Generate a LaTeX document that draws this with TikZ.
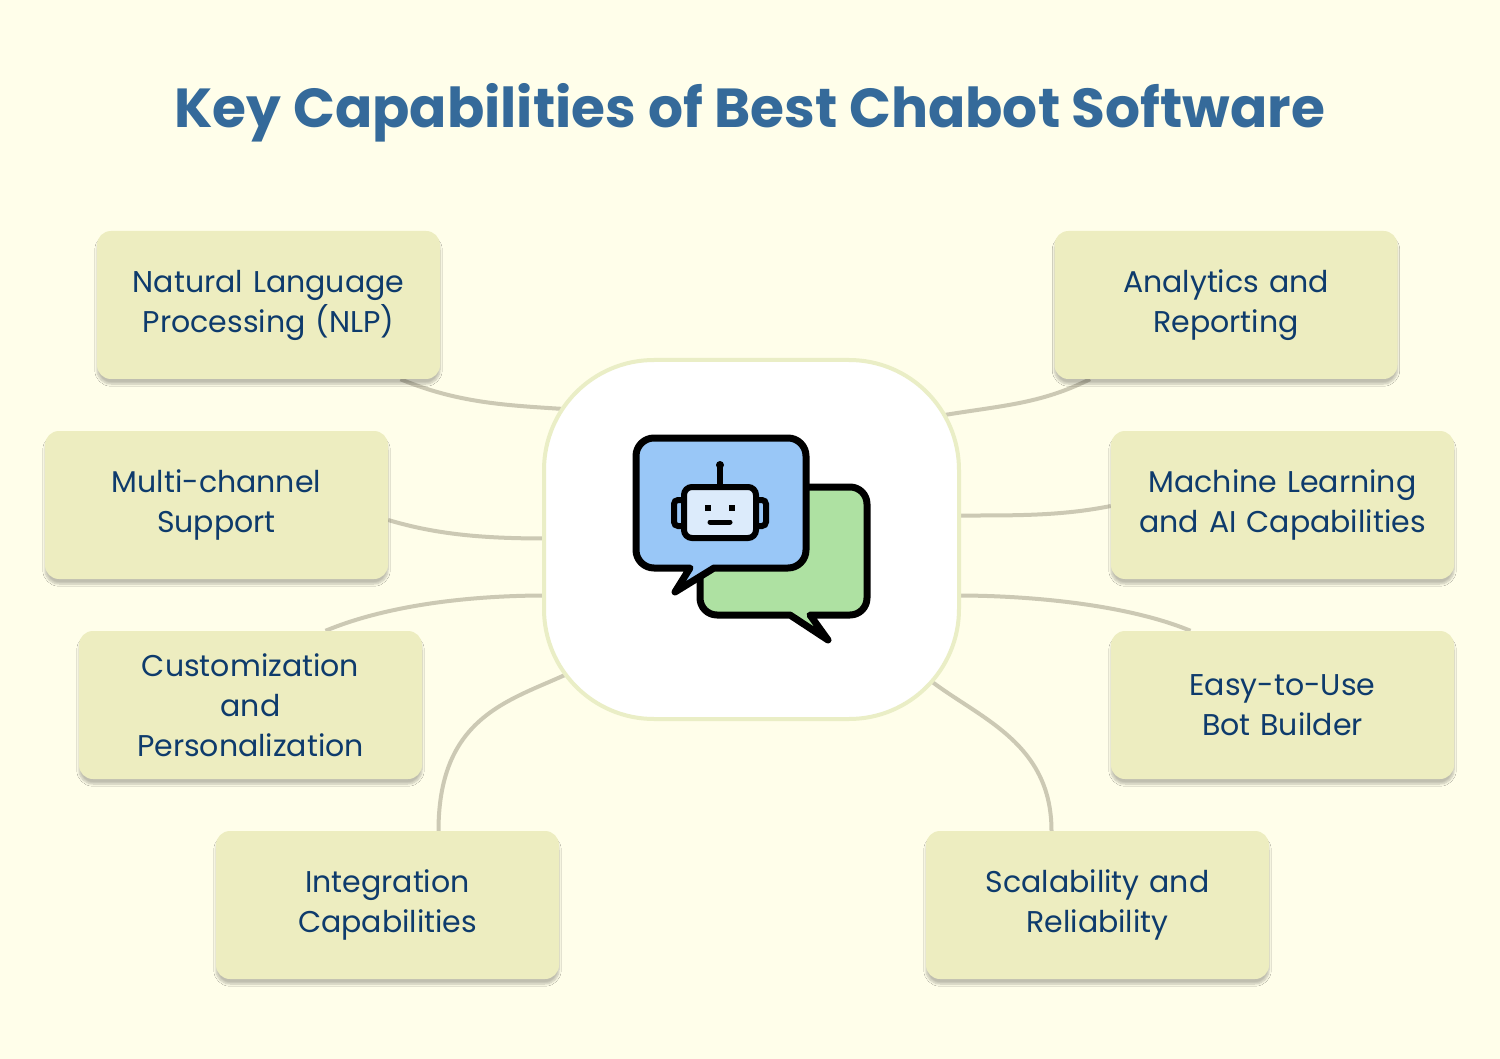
\documentclass[tikz,border=0pt]{standalone}
\usepackage{fontspec}
\setmainfont{Poppins}
\usetikzlibrary{positioning,backgrounds,shadows.blur}
\definecolor{paper}{HTML}{FFFEEA}
\definecolor{boxfill}{HTML}{EDEDC0}
\definecolor{boxtext}{HTML}{0E3B6C}
\definecolor{titleblue}{HTML}{356A9A}
\definecolor{wire}{HTML}{CCC9B4}
\definecolor{hubline}{HTML}{EAEEC6}
\definecolor{bubbleblue}{HTML}{99C7F7}
\definecolor{bubblegreen}{HTML}{AEE1A2}
\definecolor{facefill}{HTML}{DCEBFB}
\tikzstyle{capbox}=[fill=boxfill, rounded corners=14pt, minimum width=343pt, minimum height=148pt, text width=330pt, align=center, text=boxtext, font=\fontsize{30}{40}\selectfont, blur shadow={shadow xshift=0pt, shadow yshift=-5pt, shadow blur steps=6, shadow opacity=25}]
\tikzstyle{wireline}=[draw=wire, line width=4pt]
\begin{document}
\begin{tikzpicture}[x=1pt, y=-1pt]
\useasboundingbox (0,0) rectangle (1500,1059);
\node (title) at (750,113) [text=titleblue, font=\fontsize{55}{60}\selectfont\bfseries] {Key Capabilities of Best Chabot Software};

\node (hub) at (751.5,539.5) [fill=white, draw=hubline, line width=4pt, rounded corners=110pt, minimum width=415pt, minimum height=359pt] {};

\node (nlp) at (268.5,305) [capbox] {Natural Language\\Processing (NLP)};
\node (ana) at (1226,305) [capbox] {Analytics and\\Reporting};
\node (multi) at (216.5,505) [capbox] {Multi-channel\\Support};
\node (ml) at (1282.5,505) [capbox] {Machine Learning\\and AI Capabilities};
\node (cust) at (250.5,705) [capbox] {Customization\\and\\Personalization};
\node (easy) at (1282.5,705) [capbox] {Easy-to-Use\\Bot Builder};
\node (integ) at (387.5,905) [capbox] {Integration\\Capabilities};
\node (scal) at (1097.5,905) [capbox] {Scalability and\\Reliability};

\begin{scope}[on background layer]
\fill[paper] (0,0) rectangle (1500,1059);
\draw [wireline] ([xshift=132pt]nlp.south) .. controls +(60,25) and +(-60,-4) .. ([shift={(-180,-130)}]hub.center);
\draw [wireline] ([xshift=-136pt]ana.south) .. controls +(-50,25) and +(60,-10) .. ([shift={(190,-124)}]hub.center);
\draw [wireline] ([yshift=-15pt]multi.east) .. controls +(50,15) and +(-60,0) .. ([shift={(-205,-1)}]hub.center);
\draw [wireline] ([yshift=-1pt]ml.west) .. controls +(-50,10) and +(60,0) .. ([shift={(205,-24)}]hub.center);
\draw [wireline] ([xshift=75pt]cust.north) .. controls +(60,-25) and +(-80,0) .. ([shift={(-205,56)}]hub.center);
\draw [wireline] ([xshift=-92pt]easy.north) .. controls +(-60,-25) and +(80,0) .. ([shift={(205,56)}]hub.center);
\draw [wireline] ([xshift=51pt]integ.north) .. controls +(0,-120) and +(-60,30) .. ([shift={(-175,130)}]hub.center);
\draw [wireline] ([xshift=-46pt]scal.north) .. controls +(0,-90) and +(50,40) .. ([shift={(175,138)}]hub.center);
\end{scope}

% chat icon
\draw [fill=bubblegreen, line width=7pt, line join=round] (712,487) -- (850,487) arc (-90:0:17) -- (867,598) arc (0:90:17) -- (810,615) -- (828,640) -- (790,615) -- (717,615) arc (90:180:17) -- (700,504) arc (180:270:12) -- cycle;
\draw [fill=bubbleblue, line width=7pt, line join=round] (654,438) -- (788,438) arc (-90:0:18) -- (806,550) arc (0:90:18) -- (714,568) -- (675,592) -- (690,568) -- (654,568) arc (90:180:18) -- (636,456) arc (180:270:18) -- cycle;
\draw [line width=6pt] (720,466) -- (720,487);
\fill (720,465) circle (4pt);
\draw [fill=facefill, line width=6pt, rounded corners=8pt] (684,487) rectangle (756,538);
\draw [line width=6pt, rounded corners=4pt] (684,500) -- (674,500) -- (674,526) -- (684,526);
\draw [line width=6pt, rounded corners=4pt] (756,500) -- (766,500) -- (766,526) -- (756,526);
\draw [line width=6pt] (708,505) -- (708,511) (732,505) -- (732,511);
\draw [line width=5pt, line cap=round] (710,522) -- (730,522);
\end{tikzpicture}
\end{document}
